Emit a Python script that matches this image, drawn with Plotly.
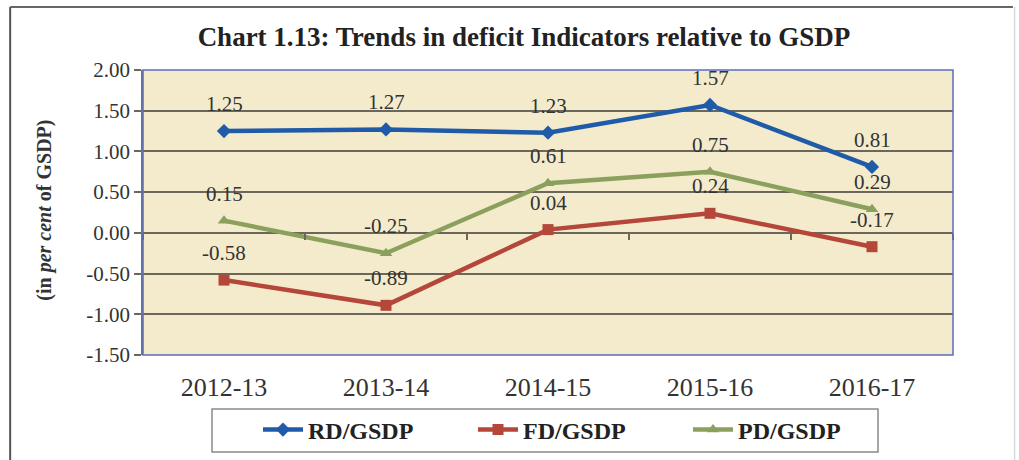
import plotly.graph_objects as go

years = ["2012-13", "2013-14", "2014-15", "2015-16", "2016-17"]
rd_gsdp = [1.25, 1.27, 1.23, 1.57, 0.81]
fd_gsdp = [-0.58, -0.89, 0.04, 0.24, -0.17]
pd_gsdp = [0.15, -0.25, 0.61, 0.75, 0.29]
y_ticks = [-1.5, -1.0, -0.5, 0.0, 0.5, 1.0, 1.5, 2.0]
y_tick_text = ["-1.50", "-1.00", "-0.50", "0.00", "0.50", "1.00", "1.50", "2.00"]

FONT = "Liberation Serif, Times New Roman, serif"
series = [
    ("RD/GSDP", rd_gsdp, "#1f5ba8", "diamond"),
    ("FD/GSDP", fd_gsdp, "#b5473a", "square"),
    ("PD/GSDP", pd_gsdp, "#8aa05c", "triangle-up"),
]

fig = go.Figure()
for name, vals, col, sym in series:
    fig.add_trace(go.Scatter(
        x=years, y=vals, name=name, mode="lines+markers",
        line=dict(color=col, width=4.5),
        marker=dict(symbol=sym, size=11, color=col),
    ))

# helper axis for small category-boundary ticks on the zero line
fig.add_trace(go.Scatter(x=years, y=[None] * len(years), xaxis="x2", yaxis="y",
                         showlegend=False, hoverinfo="skip", mode="lines"))

annotations = []
for name, vals, col, sym in series:
    for x, v in zip(years, vals):
        annotations.append(dict(
            x=x, y=v, xref="x", yref="y", text=f"{v:.2f}", showarrow=False,
            yshift=27, font=dict(family=FONT, size=21, color="#333333"),
        ))

annotations.append(dict(
    x=-0.121, y=0.51, xref="paper", yref="paper", textangle=-90, showarrow=False,
    xanchor="center", yanchor="middle",
    text="<b>(in <i>per cent</i> of GSDP)</b>",
    font=dict(family=FONT, size=20, color="#333333"),
))

shapes = [
    # plot area border
    dict(type="rect", xref="paper", yref="paper", x0=0, x1=1, y0=0, y1=1,
         line=dict(color="#5b6fbf", width=1.5), layer="above"),
    # outer frame of the scanned chart
    dict(type="line", xref="paper", yref="paper", x0=-0.164, x1=-0.164, y0=-0.4, y1=1.221,
         line=dict(color="#555555", width=2)),
    dict(type="line", xref="paper", yref="paper", x0=-0.164, x1=1.074, y0=1.221, y1=1.221,
         line=dict(color="#666666", width=2)),
    dict(type="line", xref="paper", yref="paper", x0=1.076, x1=1.076, y0=-0.4, y1=1.221,
         line=dict(color="#d8d8d8", width=1.5)),
    # legend box
    dict(type="rect", xref="paper", yref="paper", x0=0.0852, x1=0.9074, y0=-0.340, y1=-0.1895,
         line=dict(color="#8a8a8a", width=1.5), fillcolor="white", layer="below"),
]

fig.update_layout(
    width=1019, height=460,
    margin=dict(l=143, r=66, t=70, b=105, autoexpand=False),
    paper_bgcolor="white",
    plot_bgcolor="#f4ebcc",
    title=dict(
        text="<b>Chart 1.13: Trends in deficit Indicators relative to GSDP</b>",
        x=(524) / 1019, xanchor="center", y=1 - 37 / 460, yanchor="middle",
        font=dict(family=FONT, size=27, color="#222222"),
    ),
    font=dict(family=FONT, color="#333333"),
    xaxis=dict(
        type="category", categoryarray=years, range=[-0.5, 4.5],
        showgrid=False, zeroline=False, showline=False, ticks="",
        tickfont=dict(family=FONT, size=26, color="#333333"),
        ticklabelstandoff=14,
    ),
    xaxis2=dict(
        type="category", categoryarray=years, range=[-0.5, 4.5],
        overlaying="x", anchor="free", position=1.5 / 3.5,
        showgrid=False, zeroline=False, showline=False, showticklabels=False,
        ticks="outside", tickson="boundaries", ticklen=6, tickwidth=1.5,
        tickcolor="#6b675b",
    ),
    yaxis=dict(
        range=[-1.5, 2.0], tickvals=y_ticks, ticktext=y_tick_text,
        showgrid=True, gridcolor="#6b675b", gridwidth=1.5,
        zeroline=True, zerolinecolor="#6b675b", zerolinewidth=1.5,
        showline=True, linecolor="#7a7565", linewidth=1.5,
        ticks="outside", ticklen=7, tickwidth=1.5, tickcolor="#6b675b",
        tickfont=dict(family=FONT, size=21, color="#333333"),
    ),
    legend=dict(
        orientation="h", x=(258 - 143) / 810, xanchor="left",
        y=(355 - 430) / 285, yanchor="middle",
        borderwidth=0, bgcolor="rgba(0,0,0,0)",
        font=dict(family=FONT, size=24, color="#222222", weight="bold"),
        entrywidth=160, itemwidth=40,
    ),
    annotations=annotations,
    shapes=shapes,
    showlegend=True,
)

fig.write_html("out.html")
